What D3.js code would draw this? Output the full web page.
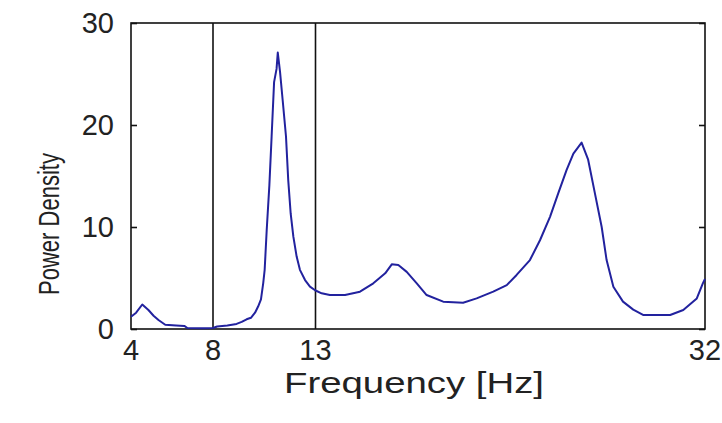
<!DOCTYPE html>
<html>
<head>
<meta charset="utf-8">
<script src="https://cdn.jsdelivr.net/npm/d3@7"></script>
<style>
  html, body { margin: 0; padding: 0; background: #fff; }
  svg { display: block; }
  text { font-family: "Liberation Sans", Arial, sans-serif; fill: #222; }
</style>
</head>
<body>
<svg id="chart" width="722" height="423"></svg>
<script>
// Spectrum samples: frequency (Hz) and power density
const freq = [4.0, 4.25, 4.55, 4.85, 5.1, 5.34, 5.67, 6.2, 6.6, 6.75, 7.5, 8.0, 8.2, 8.7,
  9.15, 9.4, 9.64, 9.85, 10.05, 10.2, 10.34, 10.45, 10.52, 10.62, 10.75, 10.86, 10.98,
  11.1, 11.16, 11.27, 11.4, 11.56, 11.67, 11.79, 11.92, 12.08, 12.24, 12.49, 12.73,
  12.98, 13.3, 13.7, 14.44, 15.17, 15.82, 16.4, 16.72, 17.04, 17.45, 17.94, 18.42,
  19.23, 20.2, 20.86, 21.67, 22.33, 22.81, 23.46, 23.95, 24.44, 24.84, 25.25, 25.58,
  25.98, 26.3, 26.63, 26.96, 27.2, 27.53, 28.0, 28.5, 29.0, 30.3, 30.94, 31.6, 31.9, 32.0];
const power = [1.2, 1.6, 2.4, 1.86, 1.3, 0.88, 0.42, 0.35, 0.3, 0.1, 0.08, 0.1, 0.25, 0.35,
  0.5, 0.7, 0.95, 1.1, 1.6, 2.2, 2.9, 4.5, 5.8, 9.7, 14.1, 18.9, 24.2,
  25.5, 27.1, 25.2, 22.4, 18.9, 14.6, 11.3, 9.05, 7.1, 5.8, 4.8, 4.15,
  3.8, 3.5, 3.33, 3.33, 3.66, 4.48, 5.46, 6.34, 6.27, 5.6, 4.48, 3.33,
  2.68, 2.58, 3.0, 3.66, 4.3, 5.3, 6.76, 8.7, 11.0, 13.3, 15.6, 17.2,
  18.27, 16.6, 13.3, 10.0, 6.76, 4.15, 2.68, 1.9, 1.37, 1.37, 1.86, 3.0, 4.5, 4.9];

// Axis ticks and band boundaries
const xTicks = [4, 8, 13, 32];
const yTicks = [0, 10, 20, 30];
const bandEdges = [8, 13];

const svg = d3.select("#chart");
const plot = { left: 131, right: 705, top: 23, bottom: 329 };

const x = d3.scaleLinear().domain([4, 32]).range([plot.left, plot.right]);
const y = d3.scaleLinear().domain([0, 30]).range([plot.bottom, plot.top]);

// Frame box
svg.append("rect")
  .attr("x", plot.left).attr("y", plot.top)
  .attr("width", plot.right - plot.left).attr("height", plot.bottom - plot.top)
  .attr("fill", "none").attr("stroke", "#111").attr("stroke-width", 1.6);

// Inward ticks on left and right edges
const yAxisL = d3.axisLeft(y).tickValues(yTicks).tickSize(-6).tickFormat("");
const yAxisR = d3.axisRight(y).tickValues(yTicks).tickSize(-6).tickFormat("");
svg.append("g").attr("transform", `translate(${plot.left},0)`).call(yAxisL)
  .call(g => g.select(".domain").remove())
  .selectAll("line").attr("stroke", "#111").attr("stroke-width", 1.6);
svg.append("g").attr("transform", `translate(${plot.right},0)`).call(yAxisR)
  .call(g => g.select(".domain").remove())
  .selectAll("line").attr("stroke", "#111").attr("stroke-width", 1.6);

// Y tick labels
svg.append("g").selectAll("text").data(yTicks).join("text")
  .attr("x", plot.left - 17).attr("y", d => y(d))
  .attr("dy", "0.36em")
  .attr("text-anchor", "end")
  .attr("font-size", 29)
  .text(d => d);

// X tick labels
svg.append("g").selectAll("text").data(xTicks).join("text")
  .attr("x", d => x(d)).attr("y", plot.bottom + 31)
  .attr("text-anchor", "middle")
  .attr("font-size", 29)
  .text(d => d);

// Band boundary lines
svg.append("g").selectAll("line").data(bandEdges).join("line")
  .attr("x1", d => x(d)).attr("x2", d => x(d))
  .attr("y1", plot.top).attr("y2", plot.bottom)
  .attr("stroke", "#111").attr("stroke-width", 1.6);

// Spectrum curve
const line = d3.line().x((d, i) => x(freq[i])).y(d => y(d));
svg.append("path")
  .datum(power)
  .attr("d", line)
  .attr("fill", "none")
  .attr("stroke", "#22229e")
  .attr("stroke-width", 2)
  .attr("stroke-linejoin", "round");

// Axis titles
svg.append("text")
  .attr("x", 414).attr("y", 393)
  .attr("text-anchor", "middle")
  .attr("font-size", 29)
  .attr("textLength", 260)
  .attr("lengthAdjust", "spacingAndGlyphs")
  .text("Frequency [Hz]");

svg.append("text")
  .attr("transform", `translate(59, 224) rotate(-90)`)
  .attr("text-anchor", "middle")
  .attr("font-size", 30)
  .attr("textLength", 142)
  .attr("lengthAdjust", "spacingAndGlyphs")
  .text("Power Density");
</script>
</body>
</html>
